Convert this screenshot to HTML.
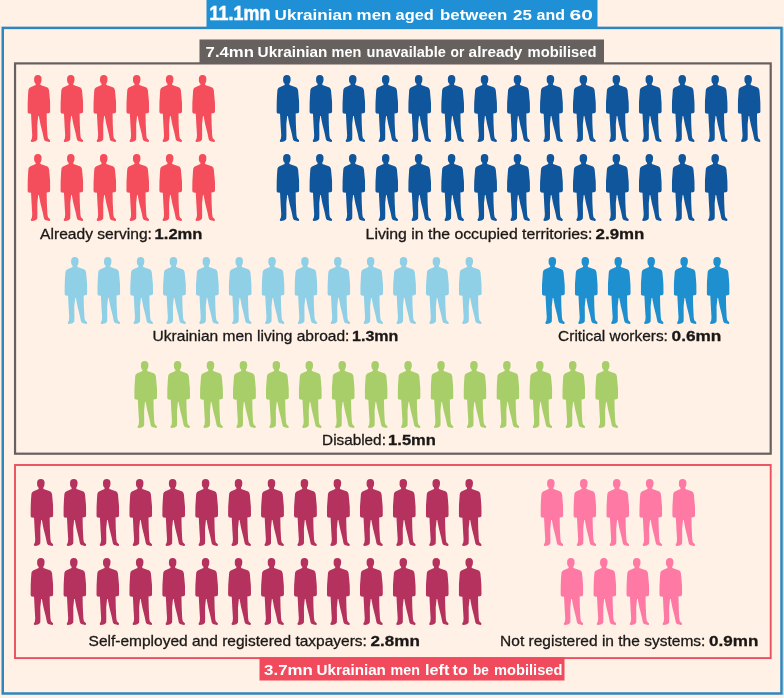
<!DOCTYPE html>
<html lang="en"><head><meta charset="utf-8"><title>Ukrainian men aged between 25 and 60</title>
<style>
html,body{margin:0;padding:0;background:#FFF1E5;}
body{width:784px;height:698px;overflow:hidden;position:relative;font-family:"Liberation Sans",sans-serif;}
svg{position:absolute;left:0;top:0;display:block}
text{font-family:"Liberation Sans",sans-serif;font-size:15px;fill:#1b1817;stroke:#1b1817;stroke-width:.3px}
.b{font-weight:bold}
.w{fill:#fff;stroke:none;font-weight:bold;font-size:15.3px}
</style></head><body>
<svg width="784" height="698" viewBox="0 0 784 698">
<defs><symbol id="man" viewBox="61 47 209 614" preserveAspectRatio="none"><path d="M156,47 C181,47 192,61 190,88 C189,108 184,120 178,128 L180,138 L238,160 C250,165 256,176 258,190 L268,300 L269,380 C268,392 262,398 252,398 L236,400 L238,500 L243,600 L248,626 L267,646 C270,656 266,661 258,660 L232,655 C218,650 212,642 210,628 L200,580 L180,500 L165,422 L159,422 L151,500 L152,600 L151,638 C146,650 132,656 118,658 L100,660 C92,658 90,650 94,644 L102,630 L105,600 L100,520 L94,402 L74,400 C66,398 61,390 61,380 L62,300 L70,188 C72,175 78,165 90,160 L136,138 L136,128 C126,118 121,105 122,88 C121,61 131,47 156,47 Z"/></symbol></defs>
<rect width="784" height="698" fill="#FFF1E5"/>

<rect x="2.75" y="27.9" width="778.75" height="665.6" fill="none" stroke="#2F86BE" stroke-width="2.5"/>
<rect x="783" y="27" width="1" height="668" fill="#C4E2F3"/>
<rect x="206.5" y="0" width="391" height="28.5" fill="#1F90D6"/>
<rect x="15.05" y="63.4" width="755.65" height="390.3" fill="none" stroke="#66615E" stroke-width="2.2"/>
<rect x="199.5" y="39.5" width="404.5" height="24.5" fill="#66615E"/>
<rect x="15" y="465" width="755.7" height="193.1" fill="none" stroke="#E8505F" stroke-width="1.9"/>
<rect x="259.5" y="657.3" width="305" height="23.2" fill="#F04A5C"/>
<g fill="#F44D5B">
<use href="#man" x="27.40" y="75" width="23" height="67"/>
<use href="#man" x="60.35" y="75" width="23" height="67"/>
<use href="#man" x="93.30" y="75" width="23" height="67"/>
<use href="#man" x="126.25" y="75" width="23" height="67"/>
<use href="#man" x="159.20" y="75" width="23" height="67"/>
<use href="#man" x="192.15" y="75" width="23" height="67"/>
</g>
<g fill="#F44D5B">
<use href="#man" x="27.40" y="154" width="23" height="67"/>
<use href="#man" x="60.35" y="154" width="23" height="67"/>
<use href="#man" x="93.30" y="154" width="23" height="67"/>
<use href="#man" x="126.25" y="154" width="23" height="67"/>
<use href="#man" x="159.20" y="154" width="23" height="67"/>
<use href="#man" x="192.15" y="154" width="23" height="67"/>
</g>
<g fill="#10569C">
<use href="#man" x="276.40" y="75" width="23" height="67"/>
<use href="#man" x="309.35" y="75" width="23" height="67"/>
<use href="#man" x="342.30" y="75" width="23" height="67"/>
<use href="#man" x="375.25" y="75" width="23" height="67"/>
<use href="#man" x="408.20" y="75" width="23" height="67"/>
<use href="#man" x="441.15" y="75" width="23" height="67"/>
<use href="#man" x="474.10" y="75" width="23" height="67"/>
<use href="#man" x="507.05" y="75" width="23" height="67"/>
<use href="#man" x="540.00" y="75" width="23" height="67"/>
<use href="#man" x="572.95" y="75" width="23" height="67"/>
<use href="#man" x="605.90" y="75" width="23" height="67"/>
<use href="#man" x="638.85" y="75" width="23" height="67"/>
<use href="#man" x="671.80" y="75" width="23" height="67"/>
<use href="#man" x="704.75" y="75" width="23" height="67"/>
<use href="#man" x="737.70" y="75" width="23" height="67"/>
</g>
<g fill="#10569C">
<use href="#man" x="276.40" y="154" width="23" height="67"/>
<use href="#man" x="309.35" y="154" width="23" height="67"/>
<use href="#man" x="342.30" y="154" width="23" height="67"/>
<use href="#man" x="375.25" y="154" width="23" height="67"/>
<use href="#man" x="408.20" y="154" width="23" height="67"/>
<use href="#man" x="441.15" y="154" width="23" height="67"/>
<use href="#man" x="474.10" y="154" width="23" height="67"/>
<use href="#man" x="507.05" y="154" width="23" height="67"/>
<use href="#man" x="540.00" y="154" width="23" height="67"/>
<use href="#man" x="572.95" y="154" width="23" height="67"/>
<use href="#man" x="605.90" y="154" width="23" height="67"/>
<use href="#man" x="638.85" y="154" width="23" height="67"/>
<use href="#man" x="671.80" y="154" width="23" height="67"/>
<use href="#man" x="704.75" y="154" width="23" height="67"/>
</g>
<g fill="#90D0E7">
<use href="#man" x="64.40" y="257" width="23" height="67"/>
<use href="#man" x="97.27" y="257" width="23" height="67"/>
<use href="#man" x="130.14" y="257" width="23" height="67"/>
<use href="#man" x="163.01" y="257" width="23" height="67"/>
<use href="#man" x="195.88" y="257" width="23" height="67"/>
<use href="#man" x="228.75" y="257" width="23" height="67"/>
<use href="#man" x="261.62" y="257" width="23" height="67"/>
<use href="#man" x="294.49" y="257" width="23" height="67"/>
<use href="#man" x="327.36" y="257" width="23" height="67"/>
<use href="#man" x="360.23" y="257" width="23" height="67"/>
<use href="#man" x="393.10" y="257" width="23" height="67"/>
<use href="#man" x="425.97" y="257" width="23" height="67"/>
<use href="#man" x="458.84" y="257" width="23" height="67"/>
</g>
<g fill="#1E90D0">
<use href="#man" x="541.90" y="257" width="23" height="67"/>
<use href="#man" x="574.85" y="257" width="23" height="67"/>
<use href="#man" x="607.80" y="257" width="23" height="67"/>
<use href="#man" x="640.75" y="257" width="23" height="67"/>
<use href="#man" x="673.70" y="257" width="23" height="67"/>
<use href="#man" x="706.65" y="257" width="23" height="67"/>
</g>
<g fill="#A8CE6A">
<use href="#man" x="134.20" y="361" width="23" height="67"/>
<use href="#man" x="167.13" y="361" width="23" height="67"/>
<use href="#man" x="200.06" y="361" width="23" height="67"/>
<use href="#man" x="232.99" y="361" width="23" height="67"/>
<use href="#man" x="265.92" y="361" width="23" height="67"/>
<use href="#man" x="298.85" y="361" width="23" height="67"/>
<use href="#man" x="331.78" y="361" width="23" height="67"/>
<use href="#man" x="364.71" y="361" width="23" height="67"/>
<use href="#man" x="397.64" y="361" width="23" height="67"/>
<use href="#man" x="430.57" y="361" width="23" height="67"/>
<use href="#man" x="463.50" y="361" width="23" height="67"/>
<use href="#man" x="496.43" y="361" width="23" height="67"/>
<use href="#man" x="529.36" y="361" width="23" height="67"/>
<use href="#man" x="562.29" y="361" width="23" height="67"/>
<use href="#man" x="595.22" y="361" width="23" height="67"/>
</g>
<g fill="#B5325E">
<use href="#man" x="30.40" y="479" width="23" height="67"/>
<use href="#man" x="63.35" y="479" width="23" height="67"/>
<use href="#man" x="96.30" y="479" width="23" height="67"/>
<use href="#man" x="129.25" y="479" width="23" height="67"/>
<use href="#man" x="162.20" y="479" width="23" height="67"/>
<use href="#man" x="195.15" y="479" width="23" height="67"/>
<use href="#man" x="228.10" y="479" width="23" height="67"/>
<use href="#man" x="261.05" y="479" width="23" height="67"/>
<use href="#man" x="294.00" y="479" width="23" height="67"/>
<use href="#man" x="326.95" y="479" width="23" height="67"/>
<use href="#man" x="359.90" y="479" width="23" height="67"/>
<use href="#man" x="392.85" y="479" width="23" height="67"/>
<use href="#man" x="425.80" y="479" width="23" height="67"/>
<use href="#man" x="458.75" y="479" width="23" height="67"/>
</g>
<g fill="#B5325E">
<use href="#man" x="30.40" y="558" width="23" height="67"/>
<use href="#man" x="63.35" y="558" width="23" height="67"/>
<use href="#man" x="96.30" y="558" width="23" height="67"/>
<use href="#man" x="129.25" y="558" width="23" height="67"/>
<use href="#man" x="162.20" y="558" width="23" height="67"/>
<use href="#man" x="195.15" y="558" width="23" height="67"/>
<use href="#man" x="228.10" y="558" width="23" height="67"/>
<use href="#man" x="261.05" y="558" width="23" height="67"/>
<use href="#man" x="294.00" y="558" width="23" height="67"/>
<use href="#man" x="326.95" y="558" width="23" height="67"/>
<use href="#man" x="359.90" y="558" width="23" height="67"/>
<use href="#man" x="392.85" y="558" width="23" height="67"/>
<use href="#man" x="425.80" y="558" width="23" height="67"/>
<use href="#man" x="458.75" y="558" width="23" height="67"/>
</g>
<g fill="#FF79A5">
<use href="#man" x="540.40" y="479" width="23" height="67"/>
<use href="#man" x="573.35" y="479" width="23" height="67"/>
<use href="#man" x="606.30" y="479" width="23" height="67"/>
<use href="#man" x="639.25" y="479" width="23" height="67"/>
<use href="#man" x="672.20" y="479" width="23" height="67"/>
</g>
<g fill="#FF79A5">
<use href="#man" x="560.40" y="558" width="23" height="67"/>
<use href="#man" x="593.35" y="558" width="23" height="67"/>
<use href="#man" x="626.30" y="558" width="23" height="67"/>
<use href="#man" x="659.25" y="558" width="23" height="67"/>
</g>
<text y="19.5" class="w"><tspan x="209.6" textLength="60.8" lengthAdjust="spacingAndGlyphs" style="font-size:19.5px;stroke:#fff;stroke-width:.5px">11.1mn</tspan> <tspan x="274.6" textLength="77.8" lengthAdjust="spacingAndGlyphs">Ukrainian</tspan> <tspan x="356.6" textLength="34.8" lengthAdjust="spacingAndGlyphs">men</tspan> <tspan x="395.6" textLength="38.3" lengthAdjust="spacingAndGlyphs">aged</tspan> <tspan x="440.1" textLength="67.3" lengthAdjust="spacingAndGlyphs">between</tspan> <tspan x="513.1" textLength="18.8" lengthAdjust="spacingAndGlyphs">25</tspan> <tspan x="536.6" textLength="28.3" lengthAdjust="spacingAndGlyphs">and</tspan> <tspan x="569.6" textLength="23.3" lengthAdjust="spacingAndGlyphs">60</tspan></text>
<text y="57" class="w"><tspan x="205.6" textLength="48.3" lengthAdjust="spacingAndGlyphs">7.4mn</tspan> <tspan x="257.6" textLength="69.8" lengthAdjust="spacingAndGlyphs">Ukrainian</tspan> <tspan x="331.6" textLength="29.8" lengthAdjust="spacingAndGlyphs">men</tspan> <tspan x="366.6" textLength="79.3" lengthAdjust="spacingAndGlyphs">unavailable</tspan> <tspan x="450.6" textLength="13.8" lengthAdjust="spacingAndGlyphs">or</tspan> <tspan x="468.6" textLength="53.8" lengthAdjust="spacingAndGlyphs">already</tspan> <tspan x="527.6" textLength="68.8" lengthAdjust="spacingAndGlyphs">mobilised</tspan></text>
<text y="675" class="w"><tspan x="264.1" textLength="48.8" lengthAdjust="spacingAndGlyphs">3.7mn</tspan> <tspan x="316.6" textLength="69.3" lengthAdjust="spacingAndGlyphs">Ukrainian</tspan> <tspan x="390.6" textLength="29.3" lengthAdjust="spacingAndGlyphs">men</tspan> <tspan x="425.1" textLength="24.3" lengthAdjust="spacingAndGlyphs">left</tspan> <tspan x="452.6" textLength="15.3" lengthAdjust="spacingAndGlyphs">to</tspan> <tspan x="473.1" textLength="15.8" lengthAdjust="spacingAndGlyphs">be</tspan> <tspan x="494.1" textLength="68.3" lengthAdjust="spacingAndGlyphs">mobilised</tspan></text>
<text x="40.1" y="238.5" textLength="111.8" lengthAdjust="spacingAndGlyphs">Already serving:</text>
<text x="154.6" y="238.5" textLength="47.8" lengthAdjust="spacingAndGlyphs" class="b">1.2mn</text>
<text x="365.6" y="238.5" textLength="226.8" lengthAdjust="spacingAndGlyphs">Living in the occupied territories:</text>
<text x="595.6" y="238.5" textLength="48.8" lengthAdjust="spacingAndGlyphs" class="b">2.9mn</text>
<text x="152.6" y="340.7" textLength="196.8" lengthAdjust="spacingAndGlyphs">Ukrainian men living abroad:</text>
<text x="352.1" y="340.7" textLength="46.3" lengthAdjust="spacingAndGlyphs" class="b">1.3mn</text>
<text x="558.1" y="341" textLength="109.8" lengthAdjust="spacingAndGlyphs">Critical workers:</text>
<text x="671.6" y="341" textLength="49.8" lengthAdjust="spacingAndGlyphs" class="b">0.6mn</text>
<text x="322.1" y="444.5" textLength="63.8" lengthAdjust="spacingAndGlyphs">Disabled:</text>
<text x="388.1" y="444.5" textLength="47.8" lengthAdjust="spacingAndGlyphs" class="b">1.5mn</text>
<text x="88.6" y="645.5" textLength="278.3" lengthAdjust="spacingAndGlyphs">Self-employed and registered taxpayers:</text>
<text x="370.6" y="645.5" textLength="49.3" lengthAdjust="spacingAndGlyphs" class="b">2.8mn</text>
<text x="500.1" y="645.5" textLength="205.3" lengthAdjust="spacingAndGlyphs">Not registered in the systems:</text>
<text x="709.1" y="645.5" textLength="49.3" lengthAdjust="spacingAndGlyphs" class="b">0.9mn</text>
</svg></body></html>
